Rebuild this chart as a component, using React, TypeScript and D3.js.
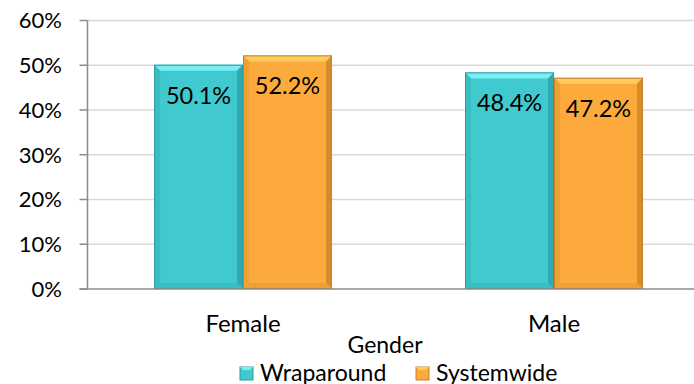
import React from "react";
import * as d3 from "d3";

const categories = ["Female", "Male"];
const seriesNames = ["Wraparound", "Systemwide"];
const wraparound = [50.1, 48.4];
const systemwide = [52.2, 47.2];
const yTicks = [0, 10, 20, 30, 40, 50, 60];

const W = 694;
const H = 384;
const FONT = "Lato, 'Open Sans', sans-serif";

const palettes = [
  { main: "#40C9CE", light: "#7BEEF3", dark: "#31A9AE", side: "#3ABDC2", border: "#2F9EA3" },
  { main: "#FBAA3B", light: "#FFCC5E", dark: "#D88B2A", side: "#EFA035", border: "#C9822A" },
];

function BevelBar({ x, y, w, h, p }: { x: number; y: number; w: number; h: number; p: any }) {
  const b = 6;
  return (
    <g>
      <rect x={x} y={y} width={w} height={h} fill={p.main} />
      <polygon points={`${x},${y} ${x + w},${y} ${x + w - b},${y + b} ${x + b},${y + b}`} fill={p.light} />
      <polygon points={`${x},${y} ${x + b},${y + b} ${x + b},${y + h - b} ${x},${y + h}`} fill={p.side} />
      <polygon points={`${x + w},${y} ${x + w},${y + h} ${x + w - b},${y + h - b} ${x + w - b},${y + b}`} fill={p.dark} />
      <polygon points={`${x},${y + h} ${x + b},${y + h - b} ${x + w - b},${y + h - b} ${x + w},${y + h}`} fill={p.side} />
      <rect x={x + 0.5} y={y + 0.5} width={w - 1} height={h - 1} fill="none" stroke={p.border} strokeWidth={1} />
    </g>
  );
}

function BevelLegend({ x, y, p }: { x: number; y: number; p: any }) {
  const s = 13;
  const b = 3;
  return (
    <g>
      <rect x={x} y={y} width={s} height={s} fill={p.main} stroke={p.border} strokeWidth={1} />
      <polygon points={`${x},${y} ${x + s},${y} ${x + s - b},${y + b} ${x + b},${y + b}`} fill={p.light} />
    </g>
  );
}

export default function App() {
  const x0 = 87.5;
  const yScale = d3.scaleLinear().domain([0, 60]).range([289, 20.5]);
  const xBand = d3
    .scaleBand<string>()
    .domain(categories)
    .range([x0, x0 + 622])
    .paddingInner(0.428)
    .paddingOuter(0.214);
  const xSub = d3.scaleBand<string>().domain(seriesNames).range([0, xBand.bandwidth()]);
  const series = [wraparound, systemwide];

  return (
    <svg width={W} height={H} style={{ position: "absolute", left: 0, top: 0, fontFamily: FONT }}>
      <rect width={W} height={H} fill="#fff" />
      {yTicks.map((t) => (
        <g key={t}>
          {t > 0 && <line x1={x0} x2={W} y1={yScale(t)} y2={yScale(t)} stroke="#D9D9D9" strokeWidth={1.5} />}
          <line x1={x0 - 8} x2={x0} y1={yScale(t)} y2={yScale(t)} stroke="#8C8C8C" strokeWidth={1.5} />
          <text x={62} y={yScale(t)} dy="0.36em" textAnchor="end" fontSize={22} fill="#000">
            {t}%
          </text>
        </g>
      ))}
      {categories.map((c, ci) =>
        seriesNames.map((s, si) => {
          const v = series[si][ci];
          const bx = (xBand(c) as number) + (xSub(s) as number);
          const by = yScale(v);
          const bw = xSub.bandwidth();
          const bh = yScale(0) - by;
          return (
            <g key={c + s}>
              <BevelBar x={bx} y={by} w={bw} h={bh} p={palettes[si]} />
              <text x={bx + bw / 2} y={by + 39} textAnchor="middle" fontSize={23.5} fill="#000">
                {v.toFixed(1)}%
              </text>
            </g>
          );
        })
      )}
      <line x1={x0} x2={x0} y1={yScale(60)} y2={yScale(0)} stroke="#8C8C8C" strokeWidth={1.5} />
      <line x1={x0 - 8} x2={W} y1={yScale(0)} y2={yScale(0)} stroke="#8C8C8C" strokeWidth={1.5} />
      {categories.map((c) => (
        <text key={c} x={(xBand(c) as number) + xBand.bandwidth() / 2} y={332} textAnchor="middle" fontSize={24} fill="#000">
          {c}
        </text>
      ))}
      <text x={385} y={353} textAnchor="middle" fontSize={23} fill="#000">
        Gender
      </text>
      {[
        { name: seriesNames[0], x: 240, p: palettes[0] },
        { name: seriesNames[1], x: 416, p: palettes[1] },
      ].map((l) => (
        <g key={l.name}>
          <BevelLegend x={l.x} y={367} p={l.p} />
          <text x={l.x + 20} y={380.5} fontSize={23} fill="#000">
            {l.name}
          </text>
        </g>
      ))}
    </svg>
  );
}
